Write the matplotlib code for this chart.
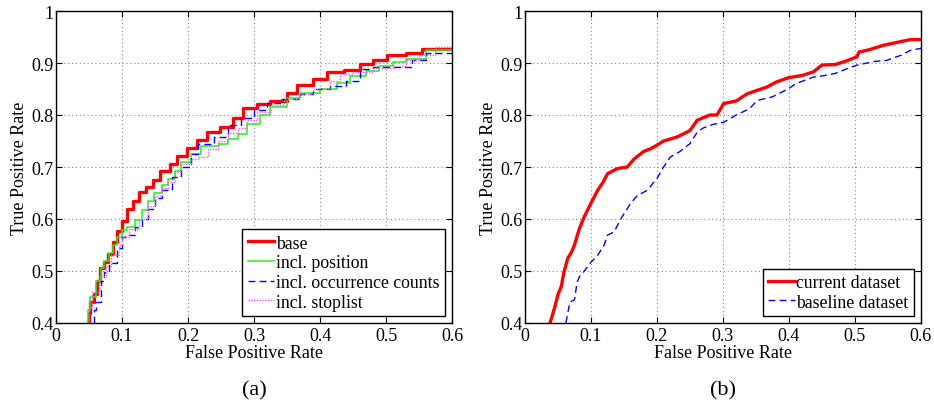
import matplotlib.pyplot as plt
import numpy as np

plt.rcParams['font.family'] = ['Liberation Serif', 'DejaVu Serif']
plt.rcParams['mathtext.fontset'] = 'stix'

# (a) step ROC curves: (fpr, tpr) corners
base_fpr = [0.050, 0.052, 0.057, 0.062, 0.067, 0.072, 0.079, 0.086, 0.093, 0.100, 0.108, 0.117,
            0.125, 0.137, 0.147, 0.158, 0.173, 0.183, 0.198, 0.213, 0.229, 0.248, 0.268, 0.284,
            0.304, 0.324, 0.350, 0.365, 0.390, 0.410, 0.436, 0.460, 0.480, 0.501, 0.531, 0.555,
            0.582, 0.600]
base_tpr = [0.400, 0.420, 0.440, 0.456, 0.480, 0.505, 0.517, 0.533, 0.556, 0.577, 0.597, 0.620,
            0.635, 0.651, 0.661, 0.675, 0.692, 0.706, 0.722, 0.737, 0.752, 0.767, 0.776, 0.795,
            0.813, 0.821, 0.827, 0.842, 0.858, 0.869, 0.882, 0.886, 0.898, 0.906, 0.916, 0.920,
            0.927, 0.927]

pos_fpr = [0.048, 0.052, 0.060, 0.068, 0.073, 0.080, 0.087, 0.093, 0.100, 0.108, 0.120, 0.130,
           0.140, 0.148, 0.160, 0.170, 0.180, 0.190, 0.205, 0.220, 0.247, 0.260, 0.275, 0.290,
           0.309, 0.324, 0.350, 0.370, 0.400, 0.425, 0.445, 0.470, 0.490, 0.510, 0.530, 0.560,
           0.585, 0.600]
pos_tpr = [0.400, 0.425, 0.450, 0.480, 0.505, 0.520, 0.535, 0.550, 0.565, 0.578, 0.585, 0.598,
           0.617, 0.635, 0.650, 0.665, 0.676, 0.692, 0.710, 0.725, 0.740, 0.745, 0.754, 0.764,
           0.783, 0.800, 0.815, 0.833, 0.842, 0.850, 0.862, 0.875, 0.885, 0.895, 0.902, 0.908,
           0.925, 0.925]

occ_fpr = [0.058, 0.060, 0.068, 0.073, 0.080, 0.093, 0.100, 0.105, 0.120, 0.130, 0.140, 0.150,
           0.160, 0.175, 0.190, 0.205, 0.215, 0.240, 0.260, 0.280, 0.300, 0.320, 0.340, 0.370,
           0.390, 0.415, 0.440, 0.460, 0.480, 0.510, 0.540, 0.560, 0.590, 0.600]
occ_tpr = [0.400, 0.425, 0.440, 0.480, 0.498, 0.515, 0.545, 0.565, 0.570, 0.585, 0.600, 0.620,
           0.640, 0.655, 0.680, 0.700, 0.725, 0.745, 0.758, 0.780, 0.795, 0.810, 0.823, 0.830,
           0.840, 0.850, 0.855, 0.865, 0.888, 0.892, 0.893, 0.905, 0.920, 0.920]

stop_fpr = [0.050, 0.055, 0.065, 0.075, 0.083, 0.095, 0.100, 0.110, 0.125, 0.140, 0.150, 0.160,
            0.170, 0.180, 0.190, 0.205, 0.215, 0.230, 0.245, 0.260, 0.275, 0.290, 0.305, 0.325,
            0.345, 0.370, 0.390, 0.415, 0.430, 0.450, 0.480, 0.510, 0.530, 0.550, 0.575, 0.590,
            0.600]
stop_tpr = [0.400, 0.430, 0.460, 0.490, 0.510, 0.530, 0.550, 0.565, 0.580, 0.600, 0.625, 0.645,
            0.660, 0.672, 0.690, 0.705, 0.715, 0.720, 0.735, 0.750, 0.765, 0.775, 0.790, 0.805,
            0.820, 0.830, 0.840, 0.850, 0.865, 0.878, 0.883, 0.890, 0.895, 0.905, 0.915, 0.930,
            0.930]

# (b) ROC curves
cur_fpr = [0.038, 0.045, 0.050, 0.055, 0.059, 0.065, 0.070, 0.075, 0.082, 0.090, 0.101, 0.110,
           0.118, 0.125, 0.140, 0.155, 0.165, 0.180, 0.190, 0.200, 0.210, 0.231, 0.250, 0.261,
           0.280, 0.291, 0.301, 0.320, 0.337, 0.367, 0.380, 0.400, 0.420, 0.437, 0.450, 0.470,
           0.485, 0.503, 0.506, 0.520, 0.543, 0.565, 0.584, 0.600]
cur_tpr = [0.400, 0.430, 0.455, 0.470, 0.498, 0.525, 0.535, 0.550, 0.580, 0.605, 0.633, 0.655,
           0.670, 0.687, 0.697, 0.700, 0.715, 0.730, 0.735, 0.742, 0.750, 0.758, 0.770, 0.790,
           0.800, 0.800, 0.822, 0.827, 0.841, 0.854, 0.863, 0.872, 0.876, 0.883, 0.896, 0.897,
           0.903, 0.912, 0.921, 0.925, 0.934, 0.940, 0.945, 0.945]

bas_fpr = [0.062, 0.068, 0.075, 0.079, 0.083, 0.090, 0.100, 0.110, 0.120, 0.125, 0.135, 0.145,
           0.150, 0.160, 0.170, 0.185, 0.200, 0.210, 0.220, 0.235, 0.250, 0.261, 0.270, 0.285,
           0.301, 0.320, 0.340, 0.352, 0.375, 0.400, 0.410, 0.437, 0.450, 0.470, 0.490, 0.503,
           0.530, 0.548, 0.570, 0.585, 0.600]
bas_tpr = [0.400, 0.440, 0.445, 0.479, 0.490, 0.500, 0.517, 0.530, 0.550, 0.569, 0.575, 0.600,
           0.610, 0.630, 0.645, 0.655, 0.678, 0.700, 0.719, 0.730, 0.745, 0.767, 0.775, 0.782,
           0.786, 0.800, 0.812, 0.828, 0.835, 0.851, 0.860, 0.873, 0.875, 0.880, 0.890, 0.896,
           0.903, 0.905, 0.915, 0.925, 0.928]

fig = plt.figure(figsize=(9.34, 4.02), dpi=100)
ax1 = fig.add_axes([56/934, 78/402, 396/934, 312/402])
ax2 = fig.add_axes([525/934, 78/402, 396/934, 312/402])

ax1.plot(base_fpr, base_tpr, drawstyle='steps-pre', color='#ff0000', lw=2.4, label='base')
ax1.plot(pos_fpr, pos_tpr, drawstyle='steps-pre', color='#22ee22', lw=1.1, label='incl. position')
ax1.plot(occ_fpr, occ_tpr, drawstyle='steps-pre', color='#0000ff', lw=1.0, ls=(0, (5, 3)),
         label='incl. occurrence counts')
ax1.plot(stop_fpr, stop_tpr, drawstyle='steps-pre', color='#ff55ff', lw=1.0, ls=(0, (1, 1)),
         label='incl. stoplist')

ax2.plot(cur_fpr, cur_tpr, color='#ff0000', lw=2.4, label='current dataset')
ax2.plot(bas_fpr, bas_tpr, color='#0000ff', lw=1.0, ls=(0, (5, 3)), label='baseline dataset')

for ax, tag in [(ax1, '(a)'), (ax2, '(b)')]:
    ax.set_xlim(0, 0.6)
    ax.set_ylim(0.4, 1)
    ax.set_xticks([0, 0.1, 0.2, 0.3, 0.4, 0.5, 0.6])
    ax.set_xticklabels(['0', '0.1', '0.2', '0.3', '0.4', '0.5', '0.6'])
    ax.set_yticks([0.4, 0.5, 0.6, 0.7, 0.8, 0.9, 1.0])
    ax.set_yticklabels(['0.4', '0.5', '0.6', '0.7', '0.8', '0.9', '1'])
    ax.tick_params(direction='in', top=True, right=True, labelsize=13, length=4)
    ax.tick_params(axis='x', pad=3)
    ax.tick_params(axis='y', pad=2)
    ax.grid(True, color='#888888', ls=(0, (1, 2.5)), lw=0.8)
    for s in ax.spines.values():
        s.set_linewidth(1.0)
    ax.set_xlabel('False Positive Rate', fontsize=13, labelpad=0)
    ax.set_ylabel('True Positive Rate', fontsize=13, labelpad=2)
    ax.text(0.5, -0.215, tag, transform=ax.transAxes, ha='center', va='center', fontsize=16)
    leg = ax.legend(loc='lower right', fontsize=12.8, fancybox=False, framealpha=1,
                    edgecolor='black', borderpad=0.3, labelspacing=0.15, handlelength=1.5,
                    handletextpad=0.1, borderaxespad=0.4)
    leg.get_frame().set_linewidth(1.0)

fig.savefig('out.png', dpi=100)
